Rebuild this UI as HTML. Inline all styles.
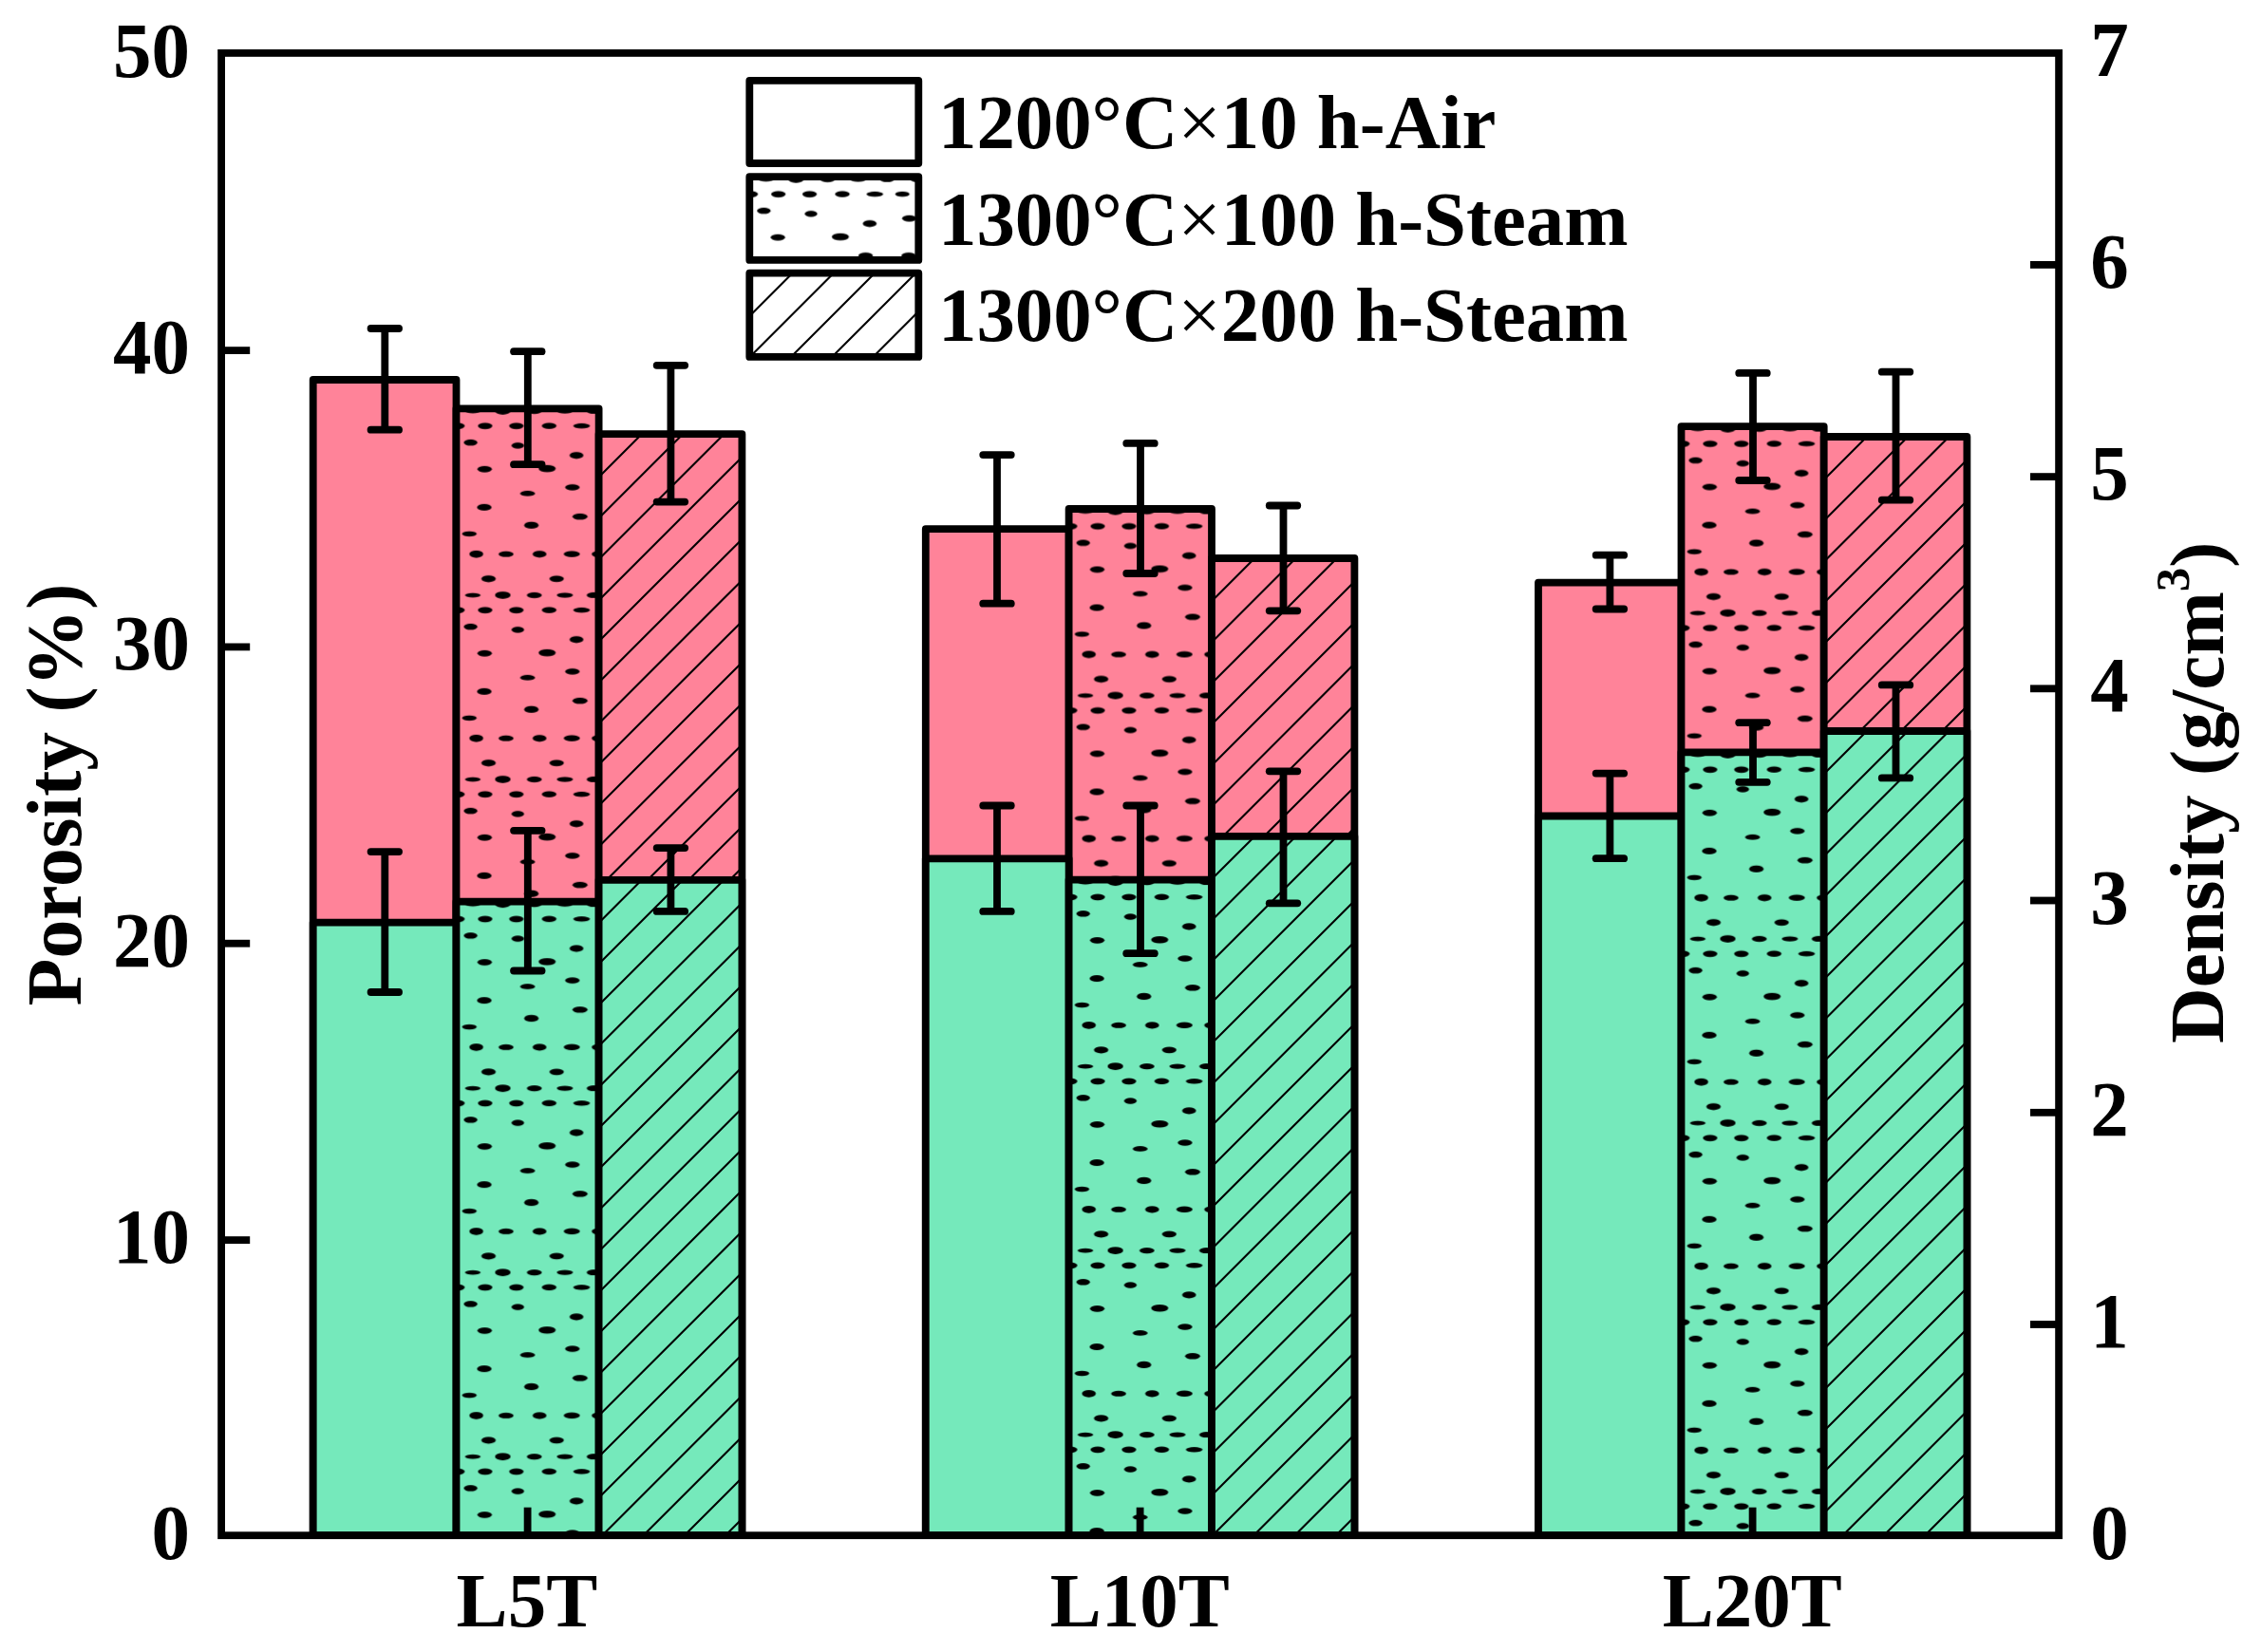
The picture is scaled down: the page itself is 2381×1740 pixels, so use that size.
<!DOCTYPE html>
<html lang="en"><head><meta charset="utf-8"><title>Porosity and density of L5T, L10T and L20T</title>
<style>html,body{margin:0;padding:0;background:#fff}svg{display:block}text{font-family:"Liberation Serif",serif;font-weight:bold;fill:#000}</style></head>
<body>
<svg width="2381" height="1740" viewBox="0 0 2381 1740" font-size="81">
<defs>
<pattern id="dots" patternUnits="userSpaceOnUse" x="-10.0" y="10.5" width="194" height="194">
<ellipse cx="27.4" cy="186.1" rx="8.2" ry="2.3"/>
<ellipse cx="59.0" cy="186.1" rx="8.2" ry="3.9"/>
<ellipse cx="92.2" cy="186.1" rx="7.9" ry="3.1"/>
<ellipse cx="124.4" cy="186.1" rx="8.5" ry="2.6"/>
<ellipse cx="154.9" cy="186.1" rx="7.6" ry="3.0"/>
<ellipse cx="187.0" cy="186.1" rx="7.6" ry="3.0"/>
<ellipse cx="-7.0" cy="186.1" rx="7.6" ry="3.0"/>
<ellipse cx="11.3" cy="7.8" rx="7.6" ry="3.35"/>
<ellipse cx="40.4" cy="7.8" rx="7.6" ry="3.35"/>
<ellipse cx="73.3" cy="7.8" rx="7.6" ry="3.35"/>
<ellipse cx="107.8" cy="7.8" rx="7.7" ry="3.2"/>
<ellipse cx="142.0" cy="7.8" rx="8.8" ry="2.7"/>
<ellipse cx="171.0" cy="7.8" rx="7.6" ry="2.8"/>
<ellipse cx="25.1" cy="25.3" rx="7.1" ry="3.3"/>
<ellipse cx="74.8" cy="28.5" rx="6.6" ry="3.3"/>
<ellipse cx="178.3" cy="33.3" rx="7.6" ry="3.35"/>
<ellipse cx="136.6" cy="38.8" rx="7.3" ry="3.6"/>
<ellipse cx="39.9" cy="53.3" rx="7.6" ry="3.35"/>
<ellipse cx="105.7" cy="52.7" rx="9.0" ry="3.8"/>
<ellipse cx="132.3" cy="72.5" rx="7.6" ry="3.35"/>
<ellipse cx="177.6" cy="72.5" rx="7.6" ry="3.35"/>
<ellipse cx="85.1" cy="78.9" rx="7.9" ry="2.8"/>
<ellipse cx="39.5" cy="93.5" rx="7.6" ry="3.6"/>
<ellipse cx="140.3" cy="103.3" rx="7.9" ry="3.3"/>
<ellipse cx="89.1" cy="112.4" rx="7.6" ry="3.6"/>
<ellipse cx="23.8" cy="121.5" rx="7.6" ry="2.7"/>
<ellipse cx="31.1" cy="142.8" rx="7.3" ry="3.9"/>
<ellipse cx="62.4" cy="142.8" rx="7.9" ry="3.0"/>
<ellipse cx="97.7" cy="142.8" rx="7.3" ry="3.6"/>
<ellipse cx="131.7" cy="142.8" rx="8.5" ry="3.2"/>
<ellipse cx="160.2" cy="142.8" rx="7.6" ry="3.35"/>
<ellipse cx="191.0" cy="142.8" rx="7.6" ry="3.35"/>
<ellipse cx="-3.0" cy="142.8" rx="7.6" ry="3.35"/>
<ellipse cx="44.0" cy="168.8" rx="7.6" ry="3.6"/>
<ellipse cx="115.7" cy="168.8" rx="7.6" ry="3.35"/>
<ellipse cx="180.0" cy="165.5" rx="7.6" ry="3.35"/>
</pattern>
</defs>
<rect width="2381" height="1740" fill="#fff"/>
<g id="bars-porosity">
<g transform="translate(329.7,400.0)"><rect width="150.8" height="1217.2" fill="#FF8399"/><rect width="150.8" height="1217.2" fill="none" stroke="#000" stroke-width="7.8" stroke-linejoin="round"/></g>
<g transform="translate(480.5,430.3)"><rect width="150.1" height="1186.9" fill="#FF8399"/><rect width="150.1" height="1186.9" fill="url(#dots)"/><rect width="150.1" height="1186.9" fill="none" stroke="#000" stroke-width="7.8" stroke-linejoin="round"/></g>
<g transform="translate(630.6,457.2)"><rect width="150.8" height="1160.0" fill="#FF8399"/><path d="M0.0 45.2L45.2 0.0M0.0 88.5L88.5 0.0M0.0 131.8L131.8 0.0M0.0 175.0L150.8 24.2M0.0 218.2L150.8 67.5M0.0 261.5L150.8 110.7M0.0 304.8L150.8 154.0M0.0 348.0L150.8 197.2M0.0 391.2L150.8 240.5M0.0 434.5L150.8 283.7M0.0 477.8L150.8 327.0M0.0 521.0L150.8 370.2M0.0 564.2L150.8 413.5M0.0 607.5L150.8 456.7M0.0 650.8L150.8 500.0M0.0 694.0L150.8 543.2M0.0 737.2L150.8 586.5M0.0 780.5L150.8 629.7M0.0 823.8L150.8 673.0M0.0 867.0L150.8 716.2M0.0 910.2L150.8 759.5M0.0 953.5L150.8 802.7M0.0 996.8L150.8 846.0M0.0 1040.0L150.8 889.2M0.0 1083.2L150.8 932.5M0.0 1126.5L150.8 975.7M9.8 1160.0L150.8 1019.0M53.0 1160.0L150.8 1062.2M96.2 1160.0L150.8 1105.5M139.5 1160.0L150.8 1148.7" stroke="#000" stroke-width="2.1" fill="none"/><rect width="150.8" height="1160.0" fill="none" stroke="#000" stroke-width="7.8" stroke-linejoin="round"/></g>
<g transform="translate(974.8,557.2)"><rect width="150.8" height="1060.0" fill="#FF8399"/><rect width="150.8" height="1060.0" fill="none" stroke="#000" stroke-width="7.8" stroke-linejoin="round"/></g>
<g transform="translate(1125.6,536.0)"><rect width="150.4" height="1081.2" fill="#FF8399"/><rect width="150.4" height="1081.2" fill="url(#dots)"/><rect width="150.4" height="1081.2" fill="none" stroke="#000" stroke-width="7.8" stroke-linejoin="round"/></g>
<g transform="translate(1276.0,588.0)"><rect width="150.4" height="1029.2" fill="#FF8399"/><path d="M0.0 45.2L45.2 0.0M0.0 88.5L88.5 0.0M0.0 131.8L131.8 0.0M0.0 175.0L150.4 24.6M0.0 218.2L150.4 67.8M0.0 261.5L150.4 111.1M0.0 304.8L150.4 154.3M0.0 348.0L150.4 197.6M0.0 391.2L150.4 240.8M0.0 434.5L150.4 284.1M0.0 477.8L150.4 327.3M0.0 521.0L150.4 370.6M0.0 564.2L150.4 413.8M0.0 607.5L150.4 457.1M0.0 650.8L150.4 500.3M0.0 694.0L150.4 543.6M0.0 737.2L150.4 586.8M0.0 780.5L150.4 630.1M0.0 823.8L150.4 673.3M0.0 867.0L150.4 716.6M0.0 910.2L150.4 759.8M0.0 953.5L150.4 803.1M0.0 996.8L150.4 846.3M10.8 1029.2L150.4 889.6M54.0 1029.2L150.4 932.8M97.3 1029.2L150.4 976.1M140.5 1029.2L150.4 1019.3" stroke="#000" stroke-width="2.1" fill="none"/><rect width="150.4" height="1029.2" fill="none" stroke="#000" stroke-width="7.8" stroke-linejoin="round"/></g>
<g transform="translate(1620.0,613.6)"><rect width="150.5" height="1003.6" fill="#FF8399"/><rect width="150.5" height="1003.6" fill="none" stroke="#000" stroke-width="7.8" stroke-linejoin="round"/></g>
<g transform="translate(1770.5,449.1)"><rect width="150.2" height="1168.1" fill="#FF8399"/><rect width="150.2" height="1168.1" fill="url(#dots)"/><rect width="150.2" height="1168.1" fill="none" stroke="#000" stroke-width="7.8" stroke-linejoin="round"/></g>
<g transform="translate(1920.7,460.0)"><rect width="150.7" height="1157.2" fill="#FF8399"/><path d="M0.0 45.2L45.2 0.0M0.0 88.5L88.5 0.0M0.0 131.8L131.8 0.0M0.0 175.0L150.7 24.3M0.0 218.2L150.7 67.5M0.0 261.5L150.7 110.8M0.0 304.8L150.7 154.0M0.0 348.0L150.7 197.3M0.0 391.2L150.7 240.5M0.0 434.5L150.7 283.8M0.0 477.8L150.7 327.0M0.0 521.0L150.7 370.3M0.0 564.2L150.7 413.5M0.0 607.5L150.7 456.8M0.0 650.8L150.7 500.0M0.0 694.0L150.7 543.3M0.0 737.2L150.7 586.5M0.0 780.5L150.7 629.8M0.0 823.8L150.7 673.0M0.0 867.0L150.7 716.3M0.0 910.2L150.7 759.5M0.0 953.5L150.7 802.8M0.0 996.8L150.7 846.0M0.0 1040.0L150.7 889.3M0.0 1083.2L150.7 932.5M0.0 1126.5L150.7 975.8M12.5 1157.2L150.7 1019.0M55.8 1157.2L150.7 1062.3M99.0 1157.2L150.7 1105.5M142.3 1157.2L150.7 1148.8" stroke="#000" stroke-width="2.1" fill="none"/><rect width="150.7" height="1157.2" fill="none" stroke="#000" stroke-width="7.8" stroke-linejoin="round"/></g>
</g>
<g id="bars-density">
<g transform="translate(329.7,971.7)"><rect width="150.8" height="645.5" fill="#75E9BB"/><rect width="150.8" height="645.5" fill="none" stroke="#000" stroke-width="7.8" stroke-linejoin="round"/></g>
<g transform="translate(480.5,949.7)"><rect width="150.1" height="667.5" fill="#75E9BB"/><rect width="150.1" height="667.5" fill="url(#dots)"/><rect width="150.1" height="667.5" fill="none" stroke="#000" stroke-width="7.8" stroke-linejoin="round"/></g>
<g transform="translate(630.6,926.8)"><rect width="150.8" height="690.4" fill="#75E9BB"/><path d="M0.0 45.2L45.2 0.0M0.0 88.5L88.5 0.0M0.0 131.8L131.8 0.0M0.0 175.0L150.8 24.2M0.0 218.2L150.8 67.5M0.0 261.5L150.8 110.7M0.0 304.8L150.8 154.0M0.0 348.0L150.8 197.2M0.0 391.2L150.8 240.5M0.0 434.5L150.8 283.7M0.0 477.8L150.8 327.0M0.0 521.0L150.8 370.2M0.0 564.2L150.8 413.5M0.0 607.5L150.8 456.7M0.0 650.8L150.8 500.0M3.6 690.4L150.8 543.2M46.8 690.4L150.8 586.5M90.1 690.4L150.8 629.7M133.3 690.4L150.8 673.0" stroke="#000" stroke-width="2.1" fill="none"/><rect width="150.8" height="690.4" fill="none" stroke="#000" stroke-width="7.8" stroke-linejoin="round"/></g>
<g transform="translate(974.8,904.3)"><rect width="150.8" height="712.9" fill="#75E9BB"/><rect width="150.8" height="712.9" fill="none" stroke="#000" stroke-width="7.8" stroke-linejoin="round"/></g>
<g transform="translate(1125.6,926.6)"><rect width="150.4" height="690.6" fill="#75E9BB"/><rect width="150.4" height="690.6" fill="url(#dots)"/><rect width="150.4" height="690.6" fill="none" stroke="#000" stroke-width="7.8" stroke-linejoin="round"/></g>
<g transform="translate(1276.0,880.9)"><rect width="150.4" height="736.3" fill="#75E9BB"/><path d="M0.0 45.2L45.2 0.0M0.0 88.5L88.5 0.0M0.0 131.8L131.8 0.0M0.0 175.0L150.4 24.6M0.0 218.2L150.4 67.8M0.0 261.5L150.4 111.1M0.0 304.8L150.4 154.3M0.0 348.0L150.4 197.6M0.0 391.2L150.4 240.8M0.0 434.5L150.4 284.1M0.0 477.8L150.4 327.3M0.0 521.0L150.4 370.6M0.0 564.2L150.4 413.8M0.0 607.5L150.4 457.1M0.0 650.8L150.4 500.3M0.0 694.0L150.4 543.6M0.9 736.3L150.4 586.8M44.2 736.3L150.4 630.1M87.4 736.3L150.4 673.3M130.7 736.3L150.4 716.6" stroke="#000" stroke-width="2.1" fill="none"/><rect width="150.4" height="736.3" fill="none" stroke="#000" stroke-width="7.8" stroke-linejoin="round"/></g>
<g transform="translate(1620.0,859.5)"><rect width="150.5" height="757.7" fill="#75E9BB"/><rect width="150.5" height="757.7" fill="none" stroke="#000" stroke-width="7.8" stroke-linejoin="round"/></g>
<g transform="translate(1770.5,792.3)"><rect width="150.2" height="824.9" fill="#75E9BB"/><rect width="150.2" height="824.9" fill="url(#dots)"/><rect width="150.2" height="824.9" fill="none" stroke="#000" stroke-width="7.8" stroke-linejoin="round"/></g>
<g transform="translate(1920.7,770.0)"><rect width="150.7" height="847.2" fill="#75E9BB"/><path d="M0.0 45.2L45.2 0.0M0.0 88.5L88.5 0.0M0.0 131.8L131.8 0.0M0.0 175.0L150.7 24.3M0.0 218.2L150.7 67.5M0.0 261.5L150.7 110.8M0.0 304.8L150.7 154.0M0.0 348.0L150.7 197.3M0.0 391.2L150.7 240.5M0.0 434.5L150.7 283.8M0.0 477.8L150.7 327.0M0.0 521.0L150.7 370.3M0.0 564.2L150.7 413.5M0.0 607.5L150.7 456.8M0.0 650.8L150.7 500.0M0.0 694.0L150.7 543.3M0.0 737.2L150.7 586.5M0.0 780.5L150.7 629.8M0.0 823.8L150.7 673.0M19.8 847.2L150.7 716.3M63.0 847.2L150.7 759.5M106.3 847.2L150.7 802.8M149.5 847.2L150.7 846.0" stroke="#000" stroke-width="2.1" fill="none"/><rect width="150.7" height="847.2" fill="none" stroke="#000" stroke-width="7.8" stroke-linejoin="round"/></g>
</g>
<g id="errorbars" fill="#000">
<rect x="401.40" y="346.0" width="7.8" height="106.7"/><rect x="386.65" y="342.10" width="37.3" height="7.8" rx="3.9"/><rect x="386.65" y="448.80" width="37.3" height="7.8" rx="3.9"/>
<rect x="551.90" y="370.2" width="7.8" height="119.0"/><rect x="537.15" y="366.30" width="37.3" height="7.8" rx="3.9"/><rect x="537.15" y="485.30" width="37.3" height="7.8" rx="3.9"/>
<rect x="702.50" y="384.8" width="7.8" height="143.8"/><rect x="687.75" y="380.90" width="37.3" height="7.8" rx="3.9"/><rect x="687.75" y="524.70" width="37.3" height="7.8" rx="3.9"/>
<rect x="1046.10" y="479.1" width="7.8" height="156.6"/><rect x="1031.35" y="475.20" width="37.3" height="7.8" rx="3.9"/><rect x="1031.35" y="631.80" width="37.3" height="7.8" rx="3.9"/>
<rect x="1197.10" y="466.9" width="7.8" height="137.1"/><rect x="1182.35" y="463.00" width="37.3" height="7.8" rx="3.9"/><rect x="1182.35" y="600.10" width="37.3" height="7.8" rx="3.9"/>
<rect x="1347.60" y="532.5" width="7.8" height="110.8"/><rect x="1332.85" y="528.60" width="37.3" height="7.8" rx="3.9"/><rect x="1332.85" y="639.40" width="37.3" height="7.8" rx="3.9"/>
<rect x="1691.50" y="584.7" width="7.8" height="56.8"/><rect x="1676.75" y="580.80" width="37.3" height="7.8" rx="3.9"/><rect x="1676.75" y="637.60" width="37.3" height="7.8" rx="3.9"/>
<rect x="1842.10" y="392.9" width="7.8" height="113.1"/><rect x="1827.35" y="389.00" width="37.3" height="7.8" rx="3.9"/><rect x="1827.35" y="502.10" width="37.3" height="7.8" rx="3.9"/>
<rect x="1992.60" y="391.7" width="7.8" height="135.0"/><rect x="1977.85" y="387.80" width="37.3" height="7.8" rx="3.9"/><rect x="1977.85" y="522.80" width="37.3" height="7.8" rx="3.9"/>
<rect x="401.40" y="897.1" width="7.8" height="147.9"/><rect x="386.65" y="893.20" width="37.3" height="7.8" rx="3.9"/><rect x="386.65" y="1041.10" width="37.3" height="7.8" rx="3.9"/>
<rect x="551.90" y="874.8" width="7.8" height="147.7"/><rect x="537.15" y="870.90" width="37.3" height="7.8" rx="3.9"/><rect x="537.15" y="1018.60" width="37.3" height="7.8" rx="3.9"/>
<rect x="702.50" y="893.1" width="7.8" height="66.8"/><rect x="687.75" y="889.20" width="37.3" height="7.8" rx="3.9"/><rect x="687.75" y="956.00" width="37.3" height="7.8" rx="3.9"/>
<rect x="1046.10" y="848.5" width="7.8" height="111.4"/><rect x="1031.35" y="844.60" width="37.3" height="7.8" rx="3.9"/><rect x="1031.35" y="956.00" width="37.3" height="7.8" rx="3.9"/>
<rect x="1197.10" y="848.5" width="7.8" height="155.7"/><rect x="1182.35" y="844.60" width="37.3" height="7.8" rx="3.9"/><rect x="1182.35" y="1000.30" width="37.3" height="7.8" rx="3.9"/>
<rect x="1347.60" y="812.3" width="7.8" height="139.0"/><rect x="1332.85" y="808.40" width="37.3" height="7.8" rx="3.9"/><rect x="1332.85" y="947.40" width="37.3" height="7.8" rx="3.9"/>
<rect x="1691.50" y="814.6" width="7.8" height="89.6"/><rect x="1676.75" y="810.70" width="37.3" height="7.8" rx="3.9"/><rect x="1676.75" y="900.30" width="37.3" height="7.8" rx="3.9"/>
<rect x="1842.10" y="761.2" width="7.8" height="62.6"/><rect x="1827.35" y="757.30" width="37.3" height="7.8" rx="3.9"/><rect x="1827.35" y="819.90" width="37.3" height="7.8" rx="3.9"/>
<rect x="1992.60" y="721.4" width="7.8" height="98.0"/><rect x="1977.85" y="717.50" width="37.3" height="7.8" rx="3.9"/><rect x="1977.85" y="815.50" width="37.3" height="7.8" rx="3.9"/>
</g>
<g id="axes" stroke="#000" stroke-width="7.8" fill="none">
<rect x="233.1" y="55.9" width="1935.0" height="1561.3"/>
<line x1="233.1" y1="1306.1" x2="263.2" y2="1306.1"/>
<line x1="233.1" y1="993.7" x2="263.2" y2="993.7"/>
<line x1="233.1" y1="681.4" x2="263.2" y2="681.4"/>
<line x1="233.1" y1="369.1" x2="263.2" y2="369.1"/>
<line x1="2168.1" y1="1395.0" x2="2138" y2="1395.0"/>
<line x1="2168.1" y1="1171.8" x2="2138" y2="1171.8"/>
<line x1="2168.1" y1="948.5" x2="2138" y2="948.5"/>
<line x1="2168.1" y1="725.3" x2="2138" y2="725.3"/>
<line x1="2168.1" y1="502.1" x2="2138" y2="502.1"/>
<line x1="2168.1" y1="278.9" x2="2138" y2="278.9"/>
<line x1="555.6" y1="1617.2" x2="555.6" y2="1587.7"/>
<line x1="1200.6" y1="1617.2" x2="1200.6" y2="1587.7"/>
<line x1="1845.6" y1="1617.2" x2="1845.6" y2="1587.7"/>
</g>
<g id="ticklabels-left" text-anchor="end">
<text transform="translate(200,1642.4) scale(1,1.025)">0</text>
<text transform="translate(200,1330.1) scale(1,1.025)">10</text>
<text transform="translate(200,1017.7) scale(1,1.025)">20</text>
<text transform="translate(200,705.4) scale(1,1.025)">30</text>
<text transform="translate(200,393.1) scale(1,1.025)">40</text>
<text transform="translate(200,80.8) scale(1,1.025)">50</text>
</g>
<g id="ticklabels-right" text-anchor="start">
<text transform="translate(2201.2,1642.2) scale(1,1.025)">0</text>
<text transform="translate(2201.2,1419.0) scale(1,1.025)">1</text>
<text transform="translate(2201.2,1195.8) scale(1,1.025)">2</text>
<text transform="translate(2201.2,972.5) scale(1,1.025)">3</text>
<text transform="translate(2201.2,749.3) scale(1,1.025)">4</text>
<text transform="translate(2201.2,526.1) scale(1,1.025)">5</text>
<text transform="translate(2201.2,302.9) scale(1,1.025)">6</text>
<text transform="translate(2201.2,79.7) scale(1,1.025)">7</text>
</g>
<g id="xlabels" text-anchor="middle">
<text x="554.9" y="1713">L5T</text>
<text x="1200.3" y="1713">L10T</text>
<text x="1845.3" y="1713">L20T</text>
</g>
<text transform="translate(84.7,837) rotate(-90)" text-anchor="middle" font-size="81.6">Porosity (%)</text>
<text transform="translate(2340.7,834.8) rotate(-90)" text-anchor="middle" font-size="81.2">Density (g/cm<tspan dy="-35.7" font-size="51">3</tspan><tspan dy="35.7">)</tspan></text>
<g id="legend">
<g transform="translate(789.3,84.9)"><rect width="178" height="87.1" fill="#fff"/><rect width="178" height="87.1" fill="none" stroke="#000" stroke-width="7.8" stroke-linejoin="round"/></g>
<g transform="translate(789.3,186.2)"><rect width="178" height="87.7" fill="#fff"/><rect width="178" height="87.7" fill="url(#dots)"/><rect width="178" height="87.7" fill="none" stroke="#000" stroke-width="7.8" stroke-linejoin="round"/></g>
<g transform="translate(789.3,287.7)"><rect width="178" height="88.2" fill="#fff"/><path d="M0.0 45.2L45.2 0.0M0.3 88.2L88.5 0.0M43.6 88.2L131.8 0.0M86.8 88.2L175.0 0.0M130.1 88.2L178.0 40.2M173.3 88.2L178.0 83.5" stroke="#000" stroke-width="2.1" fill="none"/><rect width="178" height="88.2" fill="none" stroke="#000" stroke-width="7.8" stroke-linejoin="round"/></g>
<text x="988" y="156.2" font-size="80.8">1200°C<tspan font-weight="normal">×</tspan>10 h-Air</text>
<text x="988" y="257.5" font-size="80.8">1300°C<tspan font-weight="normal">×</tspan>100 h-Steam</text>
<text x="988" y="358.8" font-size="80.8">1300°C<tspan font-weight="normal">×</tspan>200 h-Steam</text>
</g>
</svg>
</body></html>
